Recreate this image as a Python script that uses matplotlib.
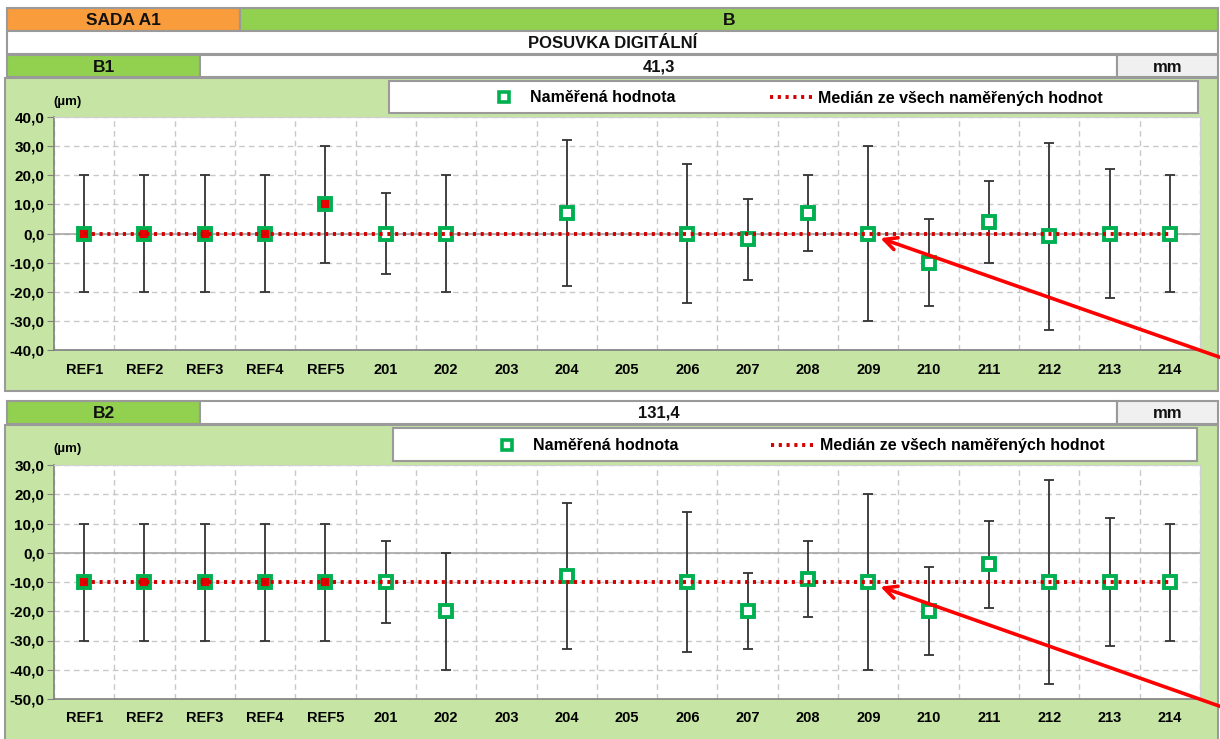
import matplotlib
matplotlib.use('Agg')
import matplotlib.pyplot as plt
from matplotlib.patches import Rectangle
import numpy as np

plt.rcParams['font.family'] = ['Liberation Sans', 'DejaVu Sans']
plt.rcParams['font.weight'] = 'bold'

W, H = 1220, 739

categories = ['REF1', 'REF2', 'REF3', 'REF4', 'REF5', '201', '202', '203', '204', '205',
              '206', '207', '208', '209', '210', '211', '212', '213', '214']
n_ref = 5
nan = np.nan

# B1 (41,3 mm)
b1_value = [0, 0, 0, 0, 10, 0, 0, nan, 7, nan, 0, -2, 7, 0, -10, 4, -1, 0, 0]
b1_upper = [20, 20, 20, 20, 30, 14, 20, nan, 32, nan, 24, 12, 20, 30, 5, 18, 31, 22, 20]
b1_lower = [-20, -20, -20, -20, -10, -14, -20, nan, -18, nan, -24, -16, -6, -30, -25, -10, -33, -22, -20]
b1_median = 0.0

# B2 (131,4 mm)
b2_value = [-10, -10, -10, -10, -10, -10, -20, nan, -8, nan, -10, -20, -9, -10, -20, -4, -10, -10, -10]
b2_upper = [10, 10, 10, 10, 10, 4, 0, nan, 17, nan, 14, -7, 4, 20, -5, 11, 25, 12, 10]
b2_lower = [-30, -30, -30, -30, -30, -24, -40, nan, -33, nan, -34, -33, -22, -40, -35, -19, -45, -32, -30]
b2_median = -10.0

ORANGE = '#f89c3c'
GREEN = '#92d050'
LIGHT = '#c6e5a5'
MARK = '#00b050'
RED_DOT = '#d40000'
EDGE = '#9a9a9a'

fig = plt.figure(figsize=(W / 100, H / 100), dpi=100)
fig.patch.set_facecolor('white')

bg = fig.add_axes([0, 0, 1, 1])
bg.set_xlim(0, W)
bg.set_ylim(H, 0)
bg.axis('off')


def box(x0, y0, x1, y1, color, text=None, size=12):
    bg.add_patch(Rectangle((x0, y0), x1 - x0, y1 - y0, facecolor=color,
                           edgecolor=EDGE, lw=1.5))
    if text:
        bg.text((x0 + x1) / 2, (y0 + y1) / 2 + 1, text, ha='center', va='center',
                fontsize=size, fontweight='bold', color='#111111')


def legend(x0, y0, x1, y1, mx, tx, lx0, lx1, ltx):
    box(x0, y0, x1, y1, 'white')
    yc = (y0 + y1) / 2
    bg.plot([mx], [yc], marker='s', ms=7.5, mew=2.6, mec=MARK, mfc='white', ls='none')
    bg.text(tx, yc + 1, 'Naměřená hodnota', ha='left', va='center', fontsize=11.5)
    bg.plot([lx0, lx1], [yc, yc], color=RED_DOT, lw=2.8, ls=(0, (0.8, 1.2)))
    bg.text(ltx, yc + 1, 'Medián ze všech naměřených hodnot', ha='left', va='center',
            fontsize=11.5)


# header
box(7, 8, 240, 31, ORANGE, 'SADA A1', 12.5)
box(240, 8, 1218, 31, GREEN, 'B', 12.5)
box(7, 31, 1218, 54, 'white', 'POSUVKA DIGITÁLNÍ', 12)

# block B1
box(7, 55, 200, 77, GREEN, 'B1', 12.5)
box(200, 55, 1117, 77, 'white', '41,3', 12)
box(1117, 55, 1218, 77, '#f0f0f0', 'mm', 12)
box(5, 78, 1218, 391, LIGHT)
legend(389, 81, 1198, 113, 504, 530, 770, 815, 818)
bg.text(53, 102, '(µm)', ha='left', va='center', fontsize=9.5)

# block B2
box(7, 401, 200, 424, GREEN, 'B2', 12.5)
box(200, 401, 1117, 424, 'white', '131,4', 12)
box(1117, 401, 1218, 424, '#f0f0f0', 'mm', 12)
box(5, 425, 1218, 760, LIGHT)
legend(393, 428, 1197, 461, 507, 533, 771, 816, 820)
bg.text(53, 449, '(µm)', ha='left', va='center', fontsize=9.5)


def panel(y_top, y_bot, vals, upper, lower, median, ylim, arrow_from):
    ax = fig.add_axes([54 / W, 1 - y_bot / H, (1200 - 54) / W, (y_bot - y_top) / H])
    ax.set_facecolor('white')
    x = np.arange(len(categories))
    v = np.array(vals, dtype=float)
    up = np.array(upper, dtype=float)
    lo = np.array(lower, dtype=float)

    ax.set_xlim(-0.5, len(categories) - 0.5)
    ax.set_ylim(*ylim)
    ax.set_yticks(np.arange(ylim[0], ylim[1] + 1, 10))
    ax.set_yticklabels([f'{t:.1f}'.replace('.', ',') for t in ax.get_yticks()])
    ax.set_xticks(x)
    ax.set_xticklabels(categories)
    ax.set_xticks(np.arange(len(categories) + 1) - 0.5, minor=True)
    ax.tick_params(axis='x', which='both', length=0, pad=9, labelsize=10.5)
    ax.tick_params(axis='y', length=5, color='#808080', pad=2, labelsize=11)

    ax.grid(True, axis='y', which='major', color='#c8c8c8', ls=(0, (4, 3)), lw=1)
    ax.grid(True, axis='x', which='minor', color='#c8c8c8', ls=(0, (4, 3)), lw=1)
    ax.set_axisbelow(True)
    ax.axhline(0, color='#a6a6a6', lw=1.2, zorder=1)
    for s in ['top', 'right']:
        ax.spines[s].set_color('#d0d0d0')
    for s in ['left', 'bottom']:
        ax.spines[s].set_color('#808080')
        ax.spines[s].set_linewidth(1.2)

    ax.errorbar(x, v, yerr=[v - lo, up - v], fmt='none', ecolor='#333333',
                elinewidth=1.3, capsize=3.5, capthick=1.3, zorder=3)
    ax.plot(x[:n_ref], v[:n_ref], 's', ms=8.5, mew=2.8, mec=MARK, mfc='#e60000', zorder=4)
    ax.plot(x[n_ref:], v[n_ref:], 's', ms=8.5, mew=2.8, mec=MARK, mfc='white', zorder=4)
    ax.plot([x[0], x[-1]], [median, median], color=RED_DOT, lw=2.8,
            ls=(0, (0.8, 1.2)), zorder=5)

    ax.annotate('', xy=(13.2, median - 1.6), xytext=arrow_from,
                textcoords='figure pixels', annotation_clip=False,
                arrowprops=dict(arrowstyle='->,head_length=0.9,head_width=0.45',
                                color='#ff0000', lw=2.6, shrinkA=0, shrinkB=0),
                zorder=6)
    return ax


panel(117, 350, b1_value, b1_upper, b1_lower, b1_median, (-40, 40), (1222, H - 358))
panel(465, 699, b2_value, b2_upper, b2_lower, b2_median, (-50, 30), (1222, H - 707))

fig.savefig('out.png', dpi=100)
